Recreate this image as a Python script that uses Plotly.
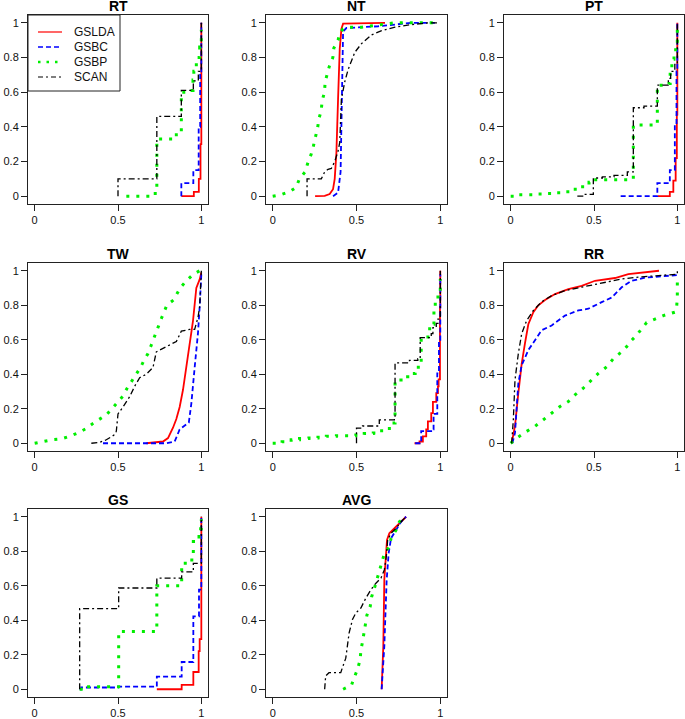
import plotly.graph_objects as go

PANELS = ["RT", "NT", "PT", "TW", "RV", "RR", "GS", "AVG"]
METHODS = ["GSLDA", "GSBC", "GSBP", "SCAN"]
X_TICKS = [0, 0.5, 1]
X_TICKTEXT = ["0", "0.5", "1"]
Y_TICKS = [0, 0.2, 0.4, 0.6, 0.8, 1]
Y_TICKTEXT = ["0", "0.2", "0.4", "0.6", "0.8", "1"]

# RT
RT_GSLDA_X = [0.88, 0.955, 0.985, 0.995, 1.0]
RT_GSLDA_Y = [0, 0.025, 0.1, 0.3, 1.0]
RT_GSBC_X = [0.88, 0.88, 0.952, 0.984, 0.993, 1.0]
RT_GSBC_Y = [0, 0.075, 0.15, 0.4, 0.7, 1.0]
RT_GSBP_X = [0.55, 0.70, 0.733, 0.85, 0.88, 0.93, 0.95, 0.955, 0.97, 0.99, 1.0]
RT_GSBP_Y = [0, 0.015, 0.33, 0.355, 0.6, 0.61, 0.67, 0.72, 0.8, 0.86, 0.96]
RT_SCAN_X = [0.5, 0.5, 0.733, 0.88, 0.952, 0.982, 1.0]
RT_SCAN_Y = [0, 0.1, 0.46, 0.61, 0.665, 0.72, 1.0]

# NT
NT_GSLDA_X = [0.253, 0.31, 0.34, 0.36, 0.37, 0.38, 0.39, 0.40, 0.41, 0.42, 0.67]
NT_GSLDA_Y = [0, 0.002, 0.012, 0.04, 0.1, 0.25, 0.56, 0.85, 0.965, 0.995, 1.0]
NT_GSBC_X = [0.36, 0.39, 0.405, 0.41, 0.414, 0.42, 0.44, 0.53, 0.63, 0.73, 0.83, 0.97]
NT_GSBC_Y = [0, 0.02, 0.14, 0.37, 0.75, 0.95, 0.97, 0.975, 0.98, 0.99, 1.0, 1.0]
NT_GSBP_X = [0, 0.048, 0.098, 0.139, 0.159, 0.193, 0.209, 0.229, 0.243, 0.255, 0.269, 0.275,
             0.289, 0.295, 0.309, 0.313, 0.325, 0.339, 0.359, 0.365, 0.39, 0.40, 0.42, 0.45,
             0.53, 0.61, 0.73, 0.97]
NT_GSBP_Y = [0, 0.008, 0.025, 0.05, 0.098, 0.14, 0.19, 0.24, 0.29, 0.34, 0.40, 0.445,
             0.49, 0.55, 0.6, 0.66, 0.705, 0.753, 0.80, 0.855, 0.9, 0.94, 0.965, 0.975,
             0.975, 0.985, 1.0, 1.0]
NT_SCAN_X = [0.205, 0.205, 0.29, 0.31, 0.33, 0.35, 0.37, 0.39, 0.40, 0.41, 0.43, 0.45, 0.49,
             0.53, 0.59, 0.65, 0.73, 0.83, 0.93, 0.98]
NT_SCAN_Y = [0, 0.1, 0.1, 0.14, 0.155, 0.16, 0.2, 0.26, 0.31, 0.56, 0.66, 0.73, 0.83,
             0.88, 0.93, 0.955, 0.975, 0.99, 1.0, 1.0]

# PT
PT_GSLDA_X = [0.88, 0.955, 0.976, 0.99, 0.997, 1.0]
PT_GSLDA_Y = [0, 0.025, 0.09, 0.22, 0.47, 1.0]
PT_GSBC_X = [0.66, 0.88, 0.955, 0.985, 0.995, 1.0]
PT_GSBC_Y = [0, 0.075, 0.15, 0.41, 0.72, 1.0]
PT_GSBP_X = [0, 0.05, 0.15, 0.22, 0.27, 0.32, 0.37, 0.42, 0.47, 0.5, 0.6, 0.7, 0.736, 0.8,
             0.88, 0.88, 0.95, 0.957, 0.967, 0.98, 0.99, 1.0]
PT_GSBP_Y = [0, 0.008, 0.012, 0.015, 0.02, 0.025, 0.04, 0.055, 0.08, 0.095, 0.095, 0.1,
             0.41, 0.41, 0.43, 0.64, 0.65, 0.73, 0.79, 0.83, 0.88, 0.97]
PT_SCAN_X = [0.4, 0.44, 0.496, 0.55, 0.62, 0.7, 0.736, 0.8, 0.88, 0.946, 0.96, 0.985, 1.0]
PT_SCAN_Y = [0, 0.01, 0.105, 0.112, 0.12, 0.14, 0.51, 0.52, 0.64, 0.68, 0.72, 0.76, 1.0]

# TW
TW_GSLDA_X = [0.67, 0.73, 0.77, 0.80, 0.83, 0.85, 0.87, 0.89, 0.91, 0.93, 0.95, 0.97, 0.99, 1.0]
TW_GSLDA_Y = [0, 0.005, 0.01, 0.03, 0.09, 0.14, 0.21, 0.31, 0.44, 0.58, 0.71, 0.9, 0.95, 0.99]
TW_GSBC_X = [0.41, 0.59, 0.79, 0.84, 0.87, 0.925, 0.94, 0.96, 0.98, 0.99, 1.0]
TW_GSBC_Y = [0, 0, 0, 0.01, 0.08, 0.12, 0.23, 0.44, 0.64, 0.79, 0.98]
TW_GSBP_X = [0, 0.05, 0.105, 0.16, 0.21, 0.26, 0.305, 0.35, 0.39, 0.43, 0.464, 0.498, 0.53,
             0.553, 0.58, 0.604, 0.633, 0.656, 0.68, 0.70, 0.717, 0.733, 0.763, 0.793, 0.833,
             0.873, 0.908, 0.952, 0.99]
TW_GSBP_Y = [0, 0.01, 0.02, 0.025, 0.04, 0.06, 0.083, 0.115, 0.14, 0.165, 0.2, 0.236, 0.274,
             0.316, 0.356, 0.398, 0.436, 0.48, 0.52, 0.57, 0.615, 0.66, 0.73, 0.8, 0.83,
             0.9, 0.94, 0.98, 1.0]
TW_SCAN_X = [0.34, 0.39, 0.43, 0.48, 0.49, 0.50, 0.53, 0.57, 0.60, 0.63, 0.67, 0.71, 0.73,
             0.77, 0.81, 0.85, 0.88, 0.93, 0.96, 0.98, 0.99, 1.0]
TW_SCAN_Y = [0, 0.005, 0.02, 0.05, 0.07, 0.17, 0.21, 0.27, 0.33, 0.38, 0.40, 0.44, 0.53,
             0.55, 0.57, 0.59, 0.65, 0.66, 0.66, 0.73, 0.79, 1.0]

# RV
RV_GSLDA_X = [0.846, 0.876, 0.896, 0.916, 0.926, 0.946, 0.956, 0.976, 0.986, 0.99, 0.998, 1.0]
RV_GSLDA_Y = [0, 0.01, 0.04, 0.08, 0.127, 0.175, 0.24, 0.29, 0.33, 0.37, 0.79, 1.0]
RV_GSBC_X = [0.85, 0.876, 0.886, 0.952, 0.96, 0.982, 0.992, 1.0]
RV_GSBC_Y = [0, 0.01, 0.07, 0.08, 0.17, 0.405, 0.6, 0.98]
RV_GSBP_X = [0, 0.056, 0.11, 0.16, 0.216, 0.27, 0.32, 0.38, 0.496, 0.546, 0.6, 0.65, 0.706,
             0.73, 0.766, 0.806, 0.85, 0.886, 0.926, 0.95, 0.962, 0.97, 0.986, 1.0]
RV_GSBP_Y = [0, 0.008, 0.02, 0.027, 0.03, 0.035, 0.04, 0.044, 0.048, 0.056, 0.06, 0.086,
             0.117, 0.367, 0.386, 0.405, 0.44, 0.616, 0.664, 0.69, 0.77, 0.818, 0.866, 0.952]
RV_SCAN_X = [0.5, 0.5, 0.536, 0.636, 0.726, 0.73, 0.816, 0.866, 0.88, 0.946, 0.956, 0.976,
             0.986, 1.0]
RV_SCAN_Y = [0, 0.088, 0.1, 0.136, 0.146, 0.466, 0.48, 0.49, 0.612, 0.635, 0.67, 0.695,
             0.72, 1.0]

# RR
RR_GSLDA_X = [0.006, 0.026, 0.046, 0.066, 0.086, 0.106, 0.136, 0.166, 0.206, 0.266, 0.346,
              0.426, 0.506, 0.626, 0.706, 0.786, 0.89]
RR_GSLDA_Y = [0, 0.1, 0.29, 0.46, 0.58, 0.69, 0.76, 0.8, 0.83, 0.865, 0.894, 0.913, 0.942,
              0.958, 0.98, 0.99, 1.0]
RR_GSBC_X = [0.01, 0.026, 0.046, 0.066, 0.106, 0.146, 0.186, 0.246, 0.326, 0.406, 0.466,
             0.546, 0.606, 0.666, 0.726, 0.806, 0.906, 1.0]
RR_GSBC_Y = [0, 0.06, 0.347, 0.453, 0.54, 0.6, 0.655, 0.683, 0.74, 0.77, 0.78, 0.818, 0.845,
             0.904, 0.942, 0.96, 0.97, 0.975]
RR_GSBP_X = [0, 0.036, 0.086, 0.146, 0.196, 0.246, 0.296, 0.346, 0.386, 0.436, 0.486, 0.526,
             0.576, 0.616, 0.666, 0.696, 0.726, 0.756, 0.786, 0.816, 0.866, 0.916, 0.986,
             0.996, 1.0, 1.0]
RR_GSBP_Y = [0, 0.03, 0.063, 0.098, 0.136, 0.175, 0.213, 0.242, 0.28, 0.32, 0.367, 0.405,
             0.443, 0.49, 0.53, 0.56, 0.597, 0.626, 0.664, 0.70, 0.72, 0.74, 0.76, 0.79,
             0.85, 0.96]
RR_SCAN_X = [0.006, 0.016, 0.026, 0.046, 0.066, 0.096, 0.136, 0.186, 0.246, 0.326, 0.426,
             0.526, 0.666, 0.786, 0.906, 0.986, 1.0, 1.0]
RR_SCAN_Y = [0, 0.136, 0.367, 0.52, 0.635, 0.712, 0.77, 0.82, 0.856, 0.885, 0.905, 0.925,
             0.952, 0.965, 0.975, 0.978, 0.98, 1.0]

# GS
GS_GSLDA_X = [0.733, 0.882, 0.952, 0.984, 0.99, 1.0]
GS_GSLDA_Y = [0, 0.025, 0.1, 0.221, 0.29, 1.0]
GS_GSBC_X = [0.27, 0.28, 0.5, 0.733, 0.882, 0.952, 0.986, 1.0]
GS_GSBC_Y = [0, 0.01, 0.015, 0.073, 0.158, 0.423, 0.577, 1.0]
GS_GSBP_X = [0.27, 0.3, 0.504, 0.733, 0.882, 0.93, 0.952, 0.986, 0.996, 1.0]
GS_GSBP_Y = [0, 0.015, 0.335, 0.6, 0.73, 0.75, 0.856, 0.885, 0.93, 0.985]
GS_SCAN_X = [0.27, 0.27, 0.504, 0.733, 0.882, 0.952, 1.0]
GS_SCAN_Y = [0, 0.467, 0.587, 0.644, 0.68, 0.73, 1.0]

# AVG
AVG_GSLDA_X = [0.65, 0.66, 0.666, 0.674, 0.682, 0.696, 0.726, 0.766, 0.796]
AVG_GSLDA_Y = [0, 0.25, 0.635, 0.79, 0.865, 0.904, 0.933, 0.971, 1.0]
AVG_GSBC_X = [0.65, 0.666, 0.68, 0.692, 0.706, 0.736, 0.766, 0.796]
AVG_GSBC_Y = [0, 0.25, 0.635, 0.79, 0.875, 0.923, 0.971, 1.0]
AVG_GSBP_X = [0.42, 0.47, 0.486, 0.506, 0.522, 0.526, 0.536, 0.546, 0.562, 0.582, 0.59, 0.606,
              0.62, 0.636, 0.65, 0.666, 0.696, 0.706, 0.736, 0.756, 0.796]
AVG_GSBP_Y = [0, 0.023, 0.067, 0.115, 0.173, 0.227, 0.275, 0.327, 0.429, 0.481, 0.535, 0.583,
              0.63, 0.688, 0.736, 0.785, 0.827, 0.875, 0.923, 0.971, 1.0]
AVG_SCAN_X = [0.31, 0.316, 0.336, 0.406, 0.416, 0.436, 0.456, 0.476, 0.496, 0.526, 0.556,
              0.586, 0.616, 0.646, 0.666, 0.678, 0.686, 0.706, 0.736, 0.766, 0.796]
AVG_SCAN_Y = [0, 0.077, 0.096, 0.096, 0.125, 0.18, 0.327, 0.404, 0.442, 0.471, 0.529, 0.577,
              0.615, 0.644, 0.692, 0.77, 0.865, 0.904, 0.933, 0.971, 1.0]

# panels drawn as step functions vs. smooth lines
STEP_PANELS = {"RT", "PT", "RV", "GS"}

# ---------------- layout geometry (pixels) ----------------
W, H = 685, 719
COL_PX = [(28, 208), (266, 447), (504, 684)]
ROW_PX = [(15, 204), (263, 451), (509, 697)]
LEGEND_BOX = (28, 15, 120, 91)          # left, top, right, bottom
LEGEND_ROWS = [32, 47, 62, 77]
LEGEND_SAMPLE = (38, 62)
LEGEND_TEXT_X = 72

STYLE = {
    "GSLDA": dict(color="#ff0000", width=1.8, dash="solid"),
    "GSBC": dict(color="#0000ff", width=1.8, dash="5px,3px"),
    "GSBP": dict(color="#00ee00", width=3, dash="3px,7px"),
    "SCAN": dict(color="#000000", width=1.3, dash="6px,3px,2px,3px"),
}
LEGEND_STYLE = {
    "GSLDA": dict(color="#ff0000", width=1.2, dash="solid"),
    "GSBC": dict(color="#0000ff", width=1.4, dash="5px,3px"),
    "GSBP": dict(color="#00ee00", width=2.5, dash="2.5px,6px"),
    "SCAN": dict(color="#000000", width=1.1, dash="5px,3px,2px,3px"),
}

FONT = "Liberation Sans, Arial, Helvetica, sans-serif"

g = globals()
fig = go.Figure()
layout = {}
annotations = []
shapes = []


def px_x(v):
    return v / W


def px_y(v):
    return 1 - v / H


for i, p in enumerate(PANELS):
    r, c = divmod(i, 3)
    n = i + 1
    xs = "" if n == 1 else str(n)
    x0, x1 = COL_PX[c]
    y0, y1 = ROW_PX[r]
    common = dict(
        ticks="outside", ticklen=6, tickcolor="#222", showline=True, mirror=True,
        linecolor="#222", linewidth=1, showgrid=False, zeroline=False,
        tickfont=dict(family=FONT, size=11, color="#111"), fixedrange=True,
    )
    layout["xaxis" + xs] = dict(
        domain=[px_x(x0), px_x(x1)], range=[-0.04, 1.04], anchor="y" + xs,
        tickvals=X_TICKS, ticktext=X_TICKTEXT, **common,
    )
    layout["yaxis" + xs] = dict(
        domain=[px_y(y1), px_y(y0)], range=[-0.045, 1.045], anchor="x" + xs,
        tickvals=Y_TICKS, ticktext=Y_TICKTEXT, **common,
    )
    annotations.append(dict(
        text="<b>%s</b>" % p, xref="x%s domain" % xs, yref="y%s domain" % xs,
        x=0.5, y=1, xanchor="center", yanchor="bottom", yshift=-1, showarrow=False,
        font=dict(family=FONT, size=14, color="#000"),
    ))
    for m in METHODS:
        fig.add_trace(go.Scatter(
            x=g["%s_%s_X" % (p, m)], y=g["%s_%s_Y" % (p, m)],
            mode="lines", name=m, legendgroup=m, showlegend=False,
            line=dict(shape="hv" if p in STEP_PANELS else "linear", **STYLE[m]),
            xaxis="x" + xs, yaxis="y" + xs, hoverinfo="skip",
        ))

# legend box (drawn like R's legend())
lx0, ly0, lx1, ly1 = LEGEND_BOX
shapes.append(dict(type="rect", xref="paper", yref="paper",
                   x0=px_x(lx0), x1=px_x(lx1), y0=px_y(ly1), y1=px_y(ly0),
                   line=dict(color="#222", width=1), fillcolor="white", layer="above"))
for m, ry in zip(METHODS, LEGEND_ROWS):
    shapes.append(dict(type="line", xref="paper", yref="paper",
                       x0=px_x(LEGEND_SAMPLE[0]), x1=px_x(LEGEND_SAMPLE[1]),
                       y0=px_y(ry), y1=px_y(ry), line=LEGEND_STYLE[m], layer="above"))
    annotations.append(dict(
        text=m, xref="paper", yref="paper", x=px_x(LEGEND_TEXT_X), y=px_y(ry),
        xanchor="left", yanchor="middle", showarrow=False,
        font=dict(family=FONT, size=12, color="#111"),
    ))

fig.update_layout(
    **layout,
    annotations=annotations,
    shapes=shapes,
    width=W, height=H,
    margin=dict(l=0, r=0, t=0, b=0),
    paper_bgcolor="white", plot_bgcolor="white",
    font=dict(family=FONT, size=11, color="#111"),
    showlegend=False,
)

fig.write_html(
    "out.html",
    config={"displayModeBar": False, "staticPlot": True},
    post_script="document.body.style.margin='0';document.body.style.padding='0';",
)
